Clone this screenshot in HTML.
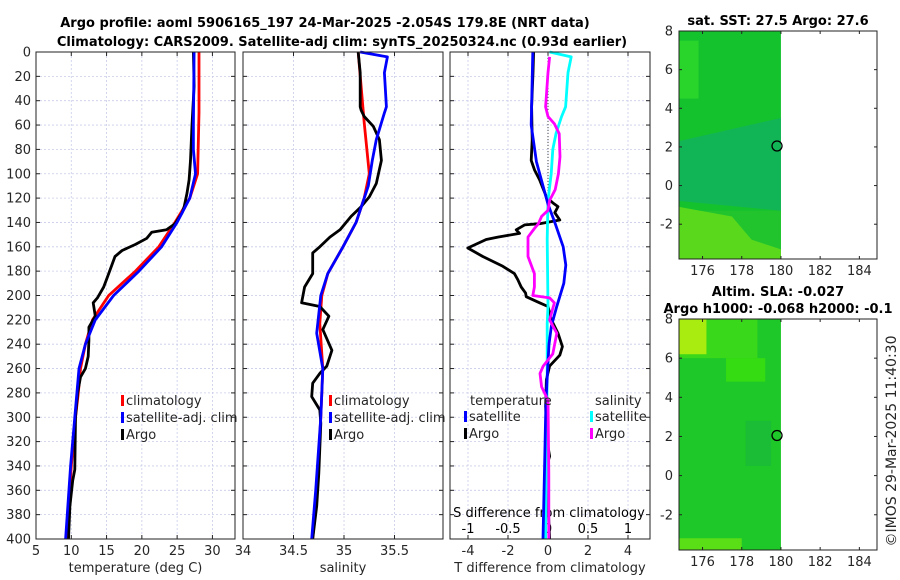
<!DOCTYPE html>
<html><head><meta charset="utf-8"><style>
html,body{margin:0;padding:0;background:#fff;}
svg{display:block;font-family:"DejaVu Sans","Liberation Sans",sans-serif;}
</style></head><body>
<svg id="fig" width="900" height="580" viewBox="0 0 900 580" xmlns="http://www.w3.org/2000/svg">
<rect width="900" height="580" fill="#fff"/>
<text x="325" y="27" text-anchor="middle" font-size="13" font-weight="bold" fill="#000">Argo profile: aoml 5906165_197 24-Mar-2025 -2.054S 179.8E (NRT data)</text>
<text x="342" y="46" text-anchor="middle" font-size="13" font-weight="bold" fill="#000">Climatology: CARS2009. Satellite-adj clim: synTS_20250324.nc (0.93d earlier)</text>
<g id="g"></g>
</svg>
<script>
// ---- data ----
const depthTicks=[0,20,40,60,80,100,120,140,160,180,200,220,240,260,280,300,320,340,360,380,400];
const tempTicks=[5,10,15,20,25,30];
const salTicks=[34,34.5,35,35.5];
const tdiffTicks=[-4,-2,0,2,4];
const sdiffTicks=[-1,-0.5,0,0.5,1];
const sdiffTickLabels=["-1","-0.5","0","0.5","1"];
const lonTicks=[176,178,180,182,184];
const latTicks=[-2,0,2,4,6,8];

const tClimDepth=[0,50,100,120,140,160,180,200,220,240,260,280,300,320,340,360,380,400];
const tClim=[28.1,28.1,27.9,26.8,24.7,22.4,19.1,15.3,13.0,12.0,11.3,11.0,10.6,10.3,10.0,9.8,9.7,9.55];
const tSatDepth=[0,60,80,100,120,140,160,180,200,220,240,260,300,340,400];
const tSat=[27.4,27.3,27.3,27.6,26.8,25.0,22.8,19.6,16.0,13.4,12.0,11.1,10.5,9.9,9.2];
const tArgoDepth=[0,28,60,89,105,116,127,132,141,146,148,153,158,163,168,182,193,202,206,217,226,237,250,260,267,280,300,343,352,373,400];
const tArgo=[27.3,27.4,27.1,26.9,26.7,26.4,26.0,25.7,24.7,23.5,21.4,20.7,19.1,17.2,16.2,15.3,14.6,13.7,13.1,13.4,12.5,12.5,12.4,12.0,11.3,10.9,10.6,10.5,10.2,9.8,9.6];

const sClimDepth=[0,58,100,120,140,160,182,200,223,260,300,360,400];
const sClim=[35.14,35.2,35.25,35.2,35.12,34.99,34.84,34.78,34.76,34.79,34.77,34.73,34.69];
const sSatDepth=[0,4,17,45,50,72,89,110,140,160,182,200,231,260,300,360,400];
const sSat=[35.16,35.43,35.40,35.42,35.40,35.32,35.28,35.24,35.12,34.99,34.84,34.77,34.73,34.79,34.77,34.72,34.68];
const sArgoDepth=[0,17,45,48,53,61,72,89,108,119,127,135,146,152,160,165,182,193,206,209,217,228,245,258,264,272,283,294,305,346,373,400];
const sArgo=[35.14,35.16,35.16,35.17,35.2,35.29,35.35,35.37,35.32,35.25,35.17,35.07,34.96,34.86,34.76,34.69,34.69,34.61,34.58,34.76,34.85,34.79,34.88,34.83,34.76,34.69,34.68,34.76,34.77,34.75,34.73,34.69];

const dTSatDepth=[0,60,90,110,125,140,160,175,190,210,225,240,280,300,340,400];
const dTSat=[-0.76,-0.84,-0.58,-0.25,0.0,0.34,0.76,0.89,0.79,0.42,0.17,0.05,-0.08,-0.12,-0.17,-0.25];
const dTArgoDepth=[0,17,45,72,89,97,105,119,124,127,132,138,141,142,146,149,152,154,161,168,176,182,187,193,198,201,206,209,220,231,242,249,258,269,291,319,332,341,400];
const dTArgo=[-0.72,-0.75,-0.82,-0.79,-0.84,-0.67,-0.42,-0.08,0.25,0.5,0.34,0.59,-0.42,-1.17,-1.59,-1.42,-2.51,-3.09,-4.01,-3.26,-2.26,-1.68,-1.51,-1.34,-1.12,-1.09,-0.42,0.0,0.17,0.5,0.72,0.59,0.08,-0.08,-0.12,-0.05,0.08,-0.08,0.08];
const dSSatDepth=[0,4,17,45,53,67,80,100,122,154,209,223,264,400];
const dSSat=[0.02,0.29,0.25,0.22,0.17,0.1,0.06,0.04,0.0,-0.01,0.0,-0.01,-0.01,-0.03];
const dSArgoDepth=[4,17,45,53,59,67,86,100,113,122,130,135,141,145,152,168,182,193,200,202,206,220,231,248,258,264,275,286,346,400];
const dSArgo=[0.02,0.0,-0.03,0.0,0.08,0.14,0.15,0.13,0.09,0.02,0.0,-0.08,-0.12,-0.17,-0.25,-0.25,-0.17,-0.17,-0.19,0.02,0.08,0.02,0.11,0.06,-0.06,-0.1,-0.08,0.0,0.01,0.01];

const floatLon=[179.8];
const floatLat=[2.05];

// ---- helpers ----
const NS="http://www.w3.org/2000/svg";
const G=document.getElementById('g');
function mk(tag,attrs,parent){const e=document.createElementNS(NS,tag);for(const k in attrs)e.setAttribute(k,attrs[k]);(parent||G).appendChild(e);return e;}
const Y0=52,Y1=539;
const FS=13;
const yD=d=>Y0+(d/400)*(Y1-Y0);

function panel(x0,x1,vmin,vmax,ticks,labels,name,xlabel){
  const sx=v=>x0+(v-vmin)/(vmax-vmin)*(x1-x0);
  const g=mk('g',{});
  
  
  ticks.forEach(t=>{const x=sx(t);
    const l=mk('line',{x1:x,x2:x,y1:Y0,y2:Y1,stroke:'#c8cce8','stroke-width':0.8,'stroke-dasharray':'2,2'},g);
    
    mk('line',{x1:x,x2:x,y1:Y1,y2:Y1-4,stroke:'#222'},g);mk('line',{x1:x,x2:x,y1:Y0,y2:Y0+4,stroke:'#222'},g);});
  depthTicks.forEach(d=>{const y=yD(d);
    const l=mk('line',{x1:x0,x2:x1,y1:y,y2:y,stroke:'#c8cce8','stroke-width':0.8,'stroke-dasharray':'2,2'},g);
    
    mk('line',{x1:x0,x2:x0+4,y1:y,y2:y,stroke:'#222'},g);mk('line',{x1:x1,x2:x1-4,y1:y,y2:y,stroke:'#222'},g);});
  if(labels){ticks.forEach((t,i)=>{const tx=mk('text',{x:sx(t),y:Y1+16,'text-anchor':'middle','font-size':FS,fill:'#262626'},g);
    tx.textContent=labels[i];});}
  if(xlabel){const tx=mk('text',{x:(x0+x1)/2,y:572,'text-anchor':'middle','font-size':FS,fill:'#262626'},g);
    tx.textContent=xlabel;}
  return {g,sx};
}
function frame(g,x0,x1){const r=mk('rect',{x:x0,y:Y0,width:x1-x0,height:Y1-Y0,fill:'none',stroke:'#222','stroke-width':1},g);
  }
function line(g,sx,depths,vals,color,name,w){
  const pts=depths.map((d,i)=>sx(vals[i]).toFixed(1)+','+yD(d).toFixed(1)).join(' ');
  const p=mk('polyline',{points:pts,fill:'none',stroke:color,'stroke-width':w||2.8,'stroke-linejoin':'round'},g);
  }
function legend(g,x,y,items){items.forEach((it,i)=>{const yy=y+i*17;
  const r=mk('rect',{x:x,y:yy-10,width:3,height:11,fill:it[1]},g);
  const t=mk('text',{x:x+5,y:yy,'font-size':FS,fill:'#262626'},g);t.textContent=it[0];});}

// panel 1 temperature
const p1=panel(36,235,5,33.2,tempTicks,tempTicks.map(String),'temperature-panel','temperature (deg C)');
depthTicks.forEach(d=>{const t=mk('text',{x:31,y:yD(d)+4.5,'text-anchor':'end','font-size':FS,fill:'#262626'});
  t.textContent=d;});
line(p1.g,p1.sx,tClimDepth,tClim,'#ff0000','temp-climatology-line');
line(p1.g,p1.sx,tArgoDepth,tArgo,'#000000','temp-argo-line');
line(p1.g,p1.sx,tSatDepth,tSat,'#0000ff','temp-satellite-line');
frame(p1.g,36,235);
legend(p1.g,121,405,[['climatology','#ff0000'],['satellite-adj. clim','#0000ff'],['Argo','#000']]);

// panel 2 salinity
const p2=panel(243,443,34,35.98,salTicks,salTicks.map(String),'salinity-panel','salinity');
line(p2.g,p2.sx,sClimDepth,sClim,'#ff0000','sal-climatology-line');
line(p2.g,p2.sx,sArgoDepth,sArgo,'#000000','sal-argo-line');
line(p2.g,p2.sx,sSatDepth,sSat,'#0000ff','sal-satellite-line');
frame(p2.g,243,443);
legend(p2.g,329,405,[['climatology','#ff0000'],['satellite-adj. clim','#0000ff'],['Argo','#000']]);

// panel 3 differences
const p3=panel(450,650,-4.9,5.1,tdiffTicks,tdiffTicks.map(String),'difference-panel','T difference from climatology');
const sxS=v=>p3.sx(v*4);
sdiffTicks.forEach((t,i)=>{const tx=mk('text',{x:sxS(t),y:533,'text-anchor':'middle','font-size':FS,fill:'#000'},p3.g);
  tx.textContent=sdiffTickLabels[i];});
{const tx=mk('text',{x:549,y:517,'text-anchor':'middle','font-size':FS,fill:'#000'},p3.g);
 tx.textContent='S difference from climatology';}
{const z=mk('line',{x1:p3.sx(0),x2:p3.sx(0),y1:yD(0),y2:yD(125),stroke:'#444','stroke-width':1,'stroke-dasharray':'1,2'},p3.g);
 }
line(p3.g,p3.sx,dTArgoDepth,dTArgo,'#000000','tdiff-argo-line');
line(p3.g,sxS,dSSatDepth,dSSat,'#00ffff','sdiff-satellite-line');
line(p3.g,p3.sx,dTSatDepth,dTSat,'#0000ff','tdiff-satellite-line');
line(p3.g,sxS,dSArgoDepth,dSArgo,'#ff00ff','sdiff-argo-line');
frame(p3.g,450,650);
{const t=mk('text',{x:470,y:405,'font-size':FS,fill:'#262626'},p3.g);t.textContent='temperature';
 const s=mk('text',{x:595,y:405,'font-size':FS,fill:'#262626'},p3.g);s.textContent='salinity';}
legend(p3.g,464,421,[['satellite','#0000ff'],['Argo','#000']]);
legend(p3.g,590,421,[['satellite','#00ffff'],['Argo','#ff00ff']]);

// maps
function map(y0,y1,name,title,kind){
  const x0=679,x1=877,lon0=174.8,lon1=184.9,lat0=-3.8,lat1=8;
  const sx=v=>x0+(v-lon0)/(lon1-lon0)*(x1-x0);
  const sy=v=>y1-(v-lat0)/(lat1-lat0)*(y1-y0);
  const g=mk('g',{});
  const xe=sx(180);
  if(kind==='sst'){
    mk('rect',{x:x0,y:y0,width:xe-x0,height:y1-y0,fill:'#14c22e'},g);
    mk('polygon',{points:`${x0},${sy(2.3)} ${xe},${sy(3.5)} ${xe},${sy(-1.3)} ${x0},${sy(-0.8)}`,fill:'#12b45a',opacity:0.9},g);
    mk('rect',{x:x0,y:sy(-1.3),width:xe-x0,height:y1-sy(-1.3),fill:'#22c42e'},g);
    mk('polygon',{points:`${x0},${sy(-1.1)} ${sx(177.5)},${sy(-1.6)} ${sx(178.5)},${sy(-2.8)} ${xe},${sy(-3.3)} ${xe},${y1} ${x0},${y1}`,fill:'#5ad81c'},g);
    mk('rect',{x:x0,y:sy(7.5),width:sx(175.8)-x0,height:sy(4.5)-sy(7.5),fill:'#2ed82a',opacity:0.8},g);
  } else {
    mk('rect',{x:x0,y:y0,width:xe-x0,height:y1-y0,fill:'#1ec828'},g);
    mk('rect',{x:x0,y:y0,width:sx(178.8)-x0,height:sy(6)-y0,fill:'#3ad81a'},g);
    mk('rect',{x:x0,y:y0,width:sx(176.2)-x0,height:sy(6.2)-y0,fill:'#a8ec10'},g);
    mk('rect',{x:sx(177.2),y:sy(6),width:sx(179.2)-sx(177.2),height:sy(4.8)-sy(6),fill:'#36dc12'},g);
    mk('rect',{x:x0,y:sy(-3.2),width:sx(178)-x0,height:y1-sy(-3.2),fill:'#5ade16'},g);
    mk('rect',{x:sx(178.2),y:sy(2.8),width:sx(179.5)-sx(178.2),height:sy(0.5)-sy(2.8),fill:'#18b83a',opacity:0.7},g);
  }
  const c=mk('circle',{cx:sx(floatLon[0]),cy:sy(floatLat[0]),r:5,fill:'none',stroke:'#000','stroke-width':1.3},g);
  
  const r=mk('rect',{x:x0,y:y0,width:x1-x0,height:y1-y0,fill:'none',stroke:'#222'},g);
  
  lonTicks.forEach(t=>{const x=sx(t);mk('line',{x1:x,x2:x,y1:y1,y2:y1-3,stroke:'#222'},g);mk('line',{x1:x,x2:x,y1:y0,y2:y0+3,stroke:'#222'},g);
    const tx=mk('text',{x:x,y:y1+16,'text-anchor':'middle','font-size':FS,fill:'#262626'},g);
    tx.textContent=t;});
  latTicks.forEach(t=>{const y=sy(t);mk('line',{x1:x0,x2:x0+3,y1:y,y2:y,stroke:'#222'},g);mk('line',{x1:x1,x2:x1-3,y1:y,y2:y,stroke:'#222'},g);
    const tx=mk('text',{x:x0-6,y:y+4.5,'text-anchor':'end','font-size':FS,fill:'#262626'},g);
    tx.textContent=t;});
  title.forEach((s,i)=>{const tx=mk('text',{x:778,y:y0-(title.length-i)*17+11,'text-anchor':'middle','font-size':13,'font-weight':'bold',fill:'#000'},g);
    tx.textContent=s;});
}
map(31,259,'sst-map',['sat. SST: 27.5 Argo: 27.6'],'sst');
map(319,550,'sla-map',['Altim. SLA: -0.027','Argo h1000: -0.068 h2000: -0.1'],'sla');
{const t=mk('text',{x:0,y:0,'font-size':14,fill:'#262626','text-anchor':'middle',transform:'translate(896,441) rotate(-90)'});
 t.textContent='©IMOS 29-Mar-2025 11:40:30';}
</script>
</body></html>
